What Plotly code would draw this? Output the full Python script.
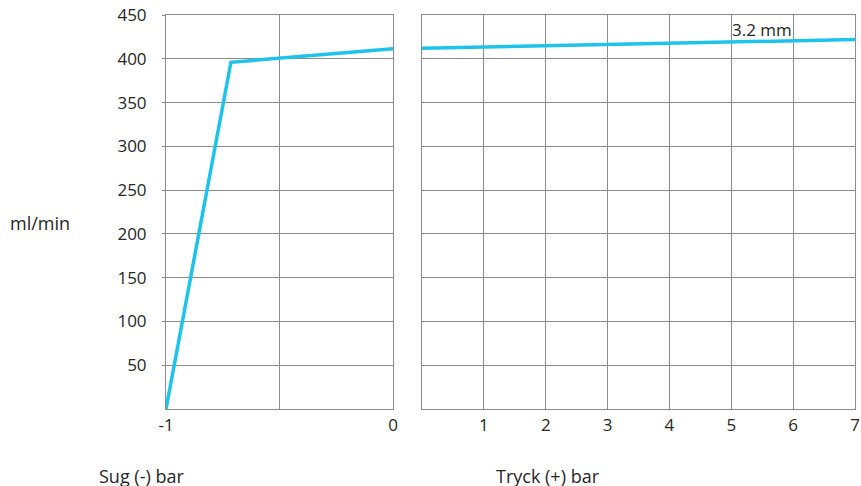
import plotly.graph_objects as go
from plotly.subplots import make_subplots

# suction side (bar, negative) and pressure side (bar, positive)
sug_bar = [-1, -0.714, 0]
sug_flow = [0, 396, 411.5]
tryck_bar = [0, 7]
tryck_flow = [412, 422]

y_ticks = [50, 100, 150, 200, 250, 300, 350, 400, 450]
sug_ticks = [-1, -0.5, 0]
sug_ticktext = ["-1", "", "0"]
tryck_ticks = [1, 2, 3, 4, 5, 6, 7]

line_col = "#1DC3EB"
grid_col = "#8c8c8c"
font = dict(family="Open Sans", size=17, color="#262626")
title_font = dict(family="Open Sans", size=18, color="#262626")

fig = make_subplots(rows=1, cols=2, shared_yaxes=False, horizontal_spacing=0)

fig.add_trace(go.Scatter(x=sug_bar, y=sug_flow, mode="lines", cliponaxis=False,
                         line=dict(color=line_col, width=3.5), showlegend=False), row=1, col=1)
fig.add_trace(go.Scatter(x=tryck_bar, y=tryck_flow, mode="lines", cliponaxis=False,
                         line=dict(color=line_col, width=3.5), showlegend=False), row=1, col=2)

axis_common = dict(showgrid=True, gridcolor=grid_col, gridwidth=1, showline=True,
                   linecolor=grid_col, linewidth=1, mirror=True, zeroline=False, automargin=False)

fig.update_xaxes(domain=[0, 0.3295], range=[-1, 0], tickvals=sug_ticks, ticktext=sug_ticktext,
                 ticks="", ticklabelstandoff=1, **axis_common, row=1, col=1)
fig.update_xaxes(domain=[0.3716, 1], range=[0, 7], tickvals=tryck_ticks,
                 ticks="", ticklabelstandoff=1, **axis_common, row=1, col=2)
fig.update_yaxes(range=[0, 450], tickvals=y_ticks, ticks="outside", ticklen=3, tickcolor=grid_col,
                 ticklabelstandoff=12, **axis_common, row=1, col=1)
fig.update_yaxes(range=[0, 450], tickvals=y_ticks, showticklabels=False, **axis_common, row=1, col=2)

W, H = 861, 486
L, R, T, B = 166, 6, 15, 77
pw, ph = W - L - R, H - T - B


def px(x):
    return (x - L) / pw


def py(y):
    return (H - B - y) / ph


fig.add_annotation(text="3.2 mm", x=5, y=434, xref="x2", yref="y2", xanchor="left",
                   yanchor="middle", showarrow=False, font=font, xshift=-1)
fig.add_annotation(text="ml/min", x=px(8), y=py(223), xref="paper", yref="paper",
                   xanchor="left", yanchor="middle", showarrow=False, font=title_font)
fig.add_annotation(text="Sug (-) bar", x=px(97), y=py(476), xref="paper", yref="paper",
                   xanchor="left", yanchor="middle", showarrow=False, font=title_font)
fig.add_annotation(text="Tryck (+) bar", x=px(494), y=py(476), xref="paper", yref="paper",
                   xanchor="left", yanchor="middle", showarrow=False, font=title_font)

fig.update_layout(width=W, height=H, margin=dict(l=L, r=R, t=T, b=B, autoexpand=False),
                  plot_bgcolor="white", paper_bgcolor="white", font=font)

# drop the default 8px body margin so the figure fills the window exactly
fig.write_html("out.html", config={"displayModeBar": False},
               post_script="document.body.style.margin='0';")
